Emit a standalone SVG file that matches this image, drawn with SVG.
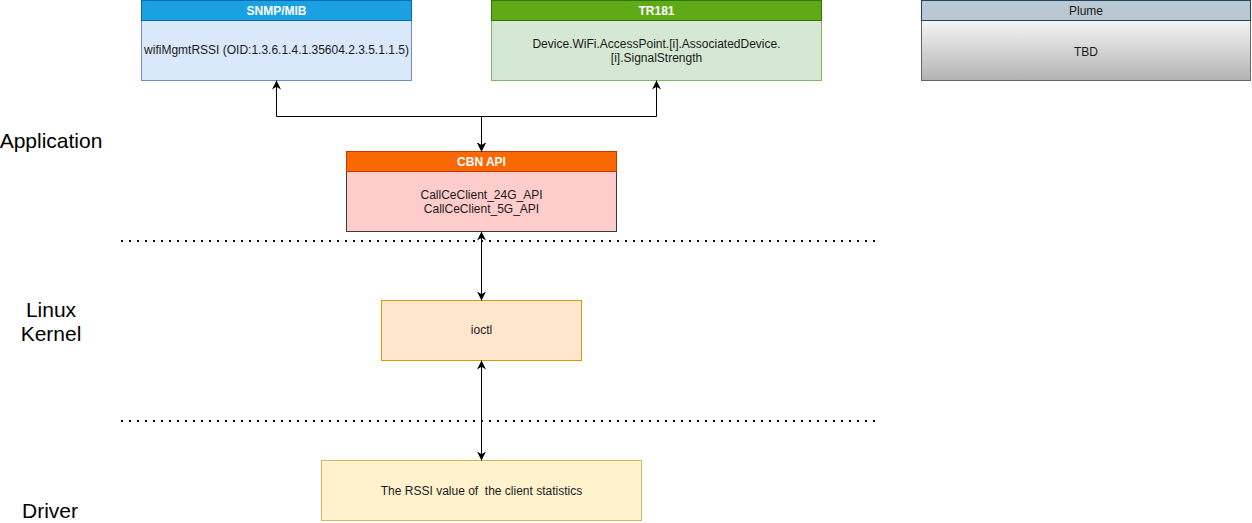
<svg xmlns="http://www.w3.org/2000/svg" width="1252" height="523" viewBox="0 0 1252 523">
<defs>
<linearGradient id="gray" x1="0" y1="0" x2="0" y2="1">
<stop offset="0" stop-color="#f5f5f5"/>
<stop offset="1" stop-color="#b3b3b3"/>
</linearGradient>
<marker id="arr" viewBox="0 0 10 10" refX="10" refY="5" markerWidth="9" markerHeight="9" markerUnits="userSpaceOnUse" orient="auto-start-reverse">
<path d="M0,0 L10,5 L0,10 L3,5 Z" fill="#000"/>
</marker>
</defs>
<style>
text{font-family:"Liberation Sans",Arial,Helvetica,sans-serif;font-size:12px;fill:#1a1a1a;text-anchor:middle}
.hdr{font-weight:bold;fill:#fff}
.lbl{font-size:21px;fill:#000}
.edge{fill:none;stroke:#000;stroke-width:1;marker-start:url(#arr);marker-end:url(#arr)}
.dot{fill:none;stroke:#000;stroke-width:2;stroke-dasharray:2 6}
</style>
<g id="layer-labels">
<text class="lbl" x="51" y="148">Application</text>
<text class="lbl" x="51" y="317">Linux</text>
<text class="lbl" x="51" y="341">Kernel</text>
<text class="lbl" x="50" y="518">Driver</text>
</g>
<g id="separators">
<line class="dot" x1="121" y1="241" x2="877" y2="241"/>
<line class="dot" x1="121" y1="421" x2="877" y2="421"/>
</g>
<g id="snmp">
<rect x="141.5" y="20.5" width="270" height="60" fill="#dae8fc" stroke="#6c8ebf"/>
<rect x="141.5" y="0.5" width="270" height="20" fill="#1ba1e2" stroke="#006eaf"/>
<text class="hdr" x="276.5" y="15">SNMP/MIB</text>
<text x="276.5" y="54">wifiMgmtRSSI (OID:1.3.6.1.4.1.35604.2.3.5.1.1.5)</text>
</g>
<g id="tr181">
<rect x="491.5" y="20.5" width="330" height="60" fill="#d5e8d4" stroke="#82b366"/>
<rect x="491.5" y="0.5" width="330" height="20" fill="#60a917" stroke="#2d7600"/>
<text class="hdr" x="656.5" y="15">TR181</text>
<text x="656.5" y="47.5">Device.WiFi.AccessPoint.[i].AssociatedDevice.</text>
<text x="656.5" y="61.5">[i].SignalStrength</text>
</g>
<g id="plume">
<rect x="921.5" y="20.5" width="329" height="60" fill="url(#gray)" stroke="#666666"/>
<rect x="921.5" y="0.5" width="329" height="20" fill="#bac8d3" stroke="#23445d"/>
<text x="1086" y="15">Plume</text>
<text x="1086" y="55.5">TBD</text>
</g>
<g id="cbn">
<rect x="346.5" y="171.5" width="270" height="60" fill="#ffcccc" stroke="#36393d"/>
<rect x="346.5" y="151.5" width="270" height="20" fill="#fa6800" stroke="#c73500"/>
<text class="hdr" x="481.5" y="165.5">CBN API</text>
<text x="481.5" y="199">CallCeClient_24G_API</text>
<text x="481.5" y="212.5">CallCeClient_5G_API</text>
</g>
<g id="ioctl">
<rect x="381.5" y="300.5" width="200" height="60" fill="#ffe6cc" stroke="#d79b00"/>
<text x="481.5" y="334">ioctl</text>
</g>
<g id="driver">
<rect x="321.5" y="460.5" width="320" height="60" fill="#fff2cc" stroke="#d6b656"/>
<text x="481.5" y="494.5" xml:space="preserve">The RSSI value of  the client statistics</text>
</g>
<g id="connectors">
<path class="edge" d="M481.5,151.5 V116.5 H276.5 V80.5"/>
<path class="edge" d="M481.5,151.5 V116.5 H656.5 V80.5"/>
<path class="edge" d="M481.5,231.5 V300.5"/>
<path class="edge" d="M481.5,360.5 V460.5"/>
</g>
</svg>
